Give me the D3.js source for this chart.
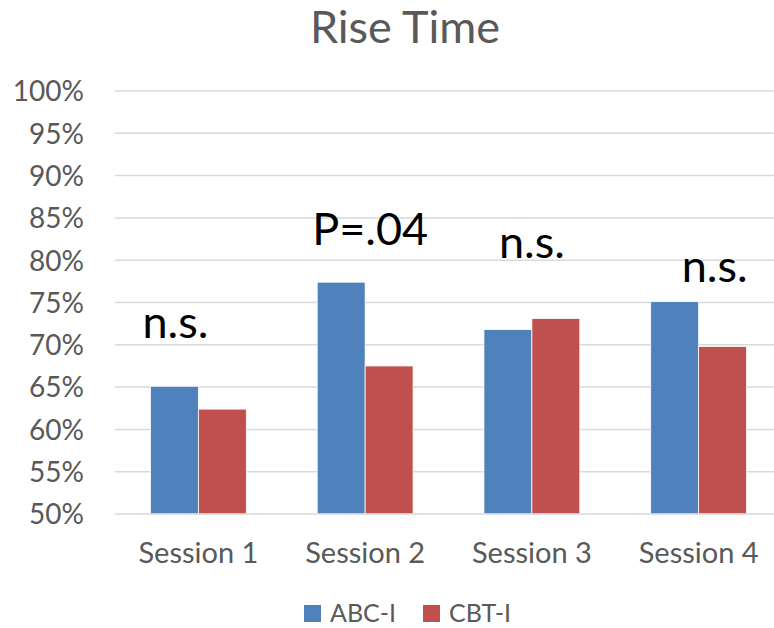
<!DOCTYPE html>
<html>
<head>
<meta charset="utf-8">
<script src="https://cdn.jsdelivr.net/npm/d3@7"></script>
<style>
  html, body { margin: 0; padding: 0; background: #fff; }
  svg { display: block; font-family: Lato, "Open Sans", sans-serif; }
</style>
</head>
<body>
<svg id="chart" width="774" height="628"></svg>
<script>
// Rise time per session, two treatment groups
const sessions = ["Session 1", "Session 2", "Session 3", "Session 4"];
const seriesNames = ["ABC-I", "CBT-I"];
const abcValues = [0.651, 0.774, 0.718, 0.751];
const cbtValues = [0.624, 0.675, 0.731, 0.698];
const significance = ["n.s.", "P=.04", "n.s.", "n.s."];
const yTicks = [0.50, 0.55, 0.60, 0.65, 0.70, 0.75, 0.80, 0.85, 0.90, 0.95, 1.00];
const colors = ["#4f81bd", "#c0504d"];

const svg = d3.select("#chart");
const margin = { left: 115, right: -8, top: 91, bottom: 114 };
const width = 774, height = 628;

const x = d3.scaleBand().domain(sessions)
  .range([margin.left, width - margin.right]).paddingInner(0).paddingOuter(0);
const groupWidth = x.bandwidth() * 0.575;
const xi = d3.scaleBand().domain(seriesNames)
  .range([0, groupWidth]);
const y = d3.scaleLinear().domain([0.5, 1.0]).range([height - margin.bottom, margin.top]);

// Title
svg.append("text")
  .attr("x", 405).attr("y", 43)
  .attr("text-anchor", "middle")
  .attr("font-size", 45).attr("fill", "#595959")
  .text("Rise Time");

// Gridlines
svg.append("g").selectAll("line").data(yTicks.slice(1)).join("line")
  .attr("x1", margin.left).attr("x2", width)
  .attr("y1", d => y(d)).attr("y2", d => y(d))
  .attr("stroke", "#d9d9d9").attr("stroke-width", 1.5);

// Y axis labels
const yAxis = d3.axisLeft(y).tickValues(yTicks).tickFormat(d3.format(".0%")).tickSize(0).tickPadding(0);
const gy = svg.append("g").attr("transform", `translate(84,0)`).call(yAxis);
gy.select(".domain").remove();
gy.selectAll("text").attr("font-size", 28).attr("fill", "#595959")
  .attr("font-family", "Lato, 'Open Sans', sans-serif").attr("dy", "0.35em");

// Bars
const rows = sessions.map((s, i) => ({ s, vals: [abcValues[i], cbtValues[i]] }));
const groups = svg.append("g").selectAll("g").data(rows).join("g")
  .attr("transform", d => `translate(${x(d.s) + (x.bandwidth() - groupWidth) / 2},0)`);
groups.selectAll("rect").data(d => d.vals.map((v, j) => ({ v, name: seriesNames[j], j })))
  .join("rect")
  .attr("x", d => xi(d.name))
  .attr("width", xi.bandwidth())
  .attr("y", d => y(d.v))
  .attr("height", d => y(0.5) - y(d.v))
  .attr("fill", d => colors[d.j])
  .attr("stroke", "#fff").attr("stroke-width", 0.8);

// X axis line
svg.append("line")
  .attr("x1", margin.left).attr("x2", width)
  .attr("y1", y(0.5)).attr("y2", y(0.5))
  .attr("stroke", "#d9d9d9").attr("stroke-width", 1.5);

// X axis labels
const xAxis = d3.axisBottom(x).tickSize(0).tickPadding(0);
const gx = svg.append("g").attr("transform", `translate(0,${y(0.5) + 49})`).call(xAxis);
gx.select(".domain").remove();
gx.selectAll("text").attr("font-size", 29).attr("fill", "#595959")
  .attr("font-family", "Lato, 'Open Sans', sans-serif").attr("dy", 0);

// Significance annotations above each session
const sigOffsets = [-23, 5, 0, 16];
const sigBaseline = [338, 245, 258, 282];
svg.append("g").selectAll("text").data(significance).join("text")
  .attr("x", (d, i) => x(sessions[i]) + x.bandwidth() / 2 + sigOffsets[i])
  .attr("y", (d, i) => sigBaseline[i])
  .attr("text-anchor", "middle")
  .attr("font-size", 45).attr("fill", "#000")
  .text(d => d);

// Legend
const legend = svg.append("g").attr("transform", "translate(304,605)");
const legendX = [0, 119];
seriesNames.forEach((n, i) => {
  const g = legend.append("g").attr("transform", `translate(${legendX[i]},0)`);
  g.append("rect").attr("width", 17).attr("height", 17).attr("y", 0).attr("fill", colors[i]);
  g.append("text").attr("x", 26).attr("y", 17).attr("font-size", 25).attr("fill", "#595959").text(n);
});
</script>
</body>
</html>
